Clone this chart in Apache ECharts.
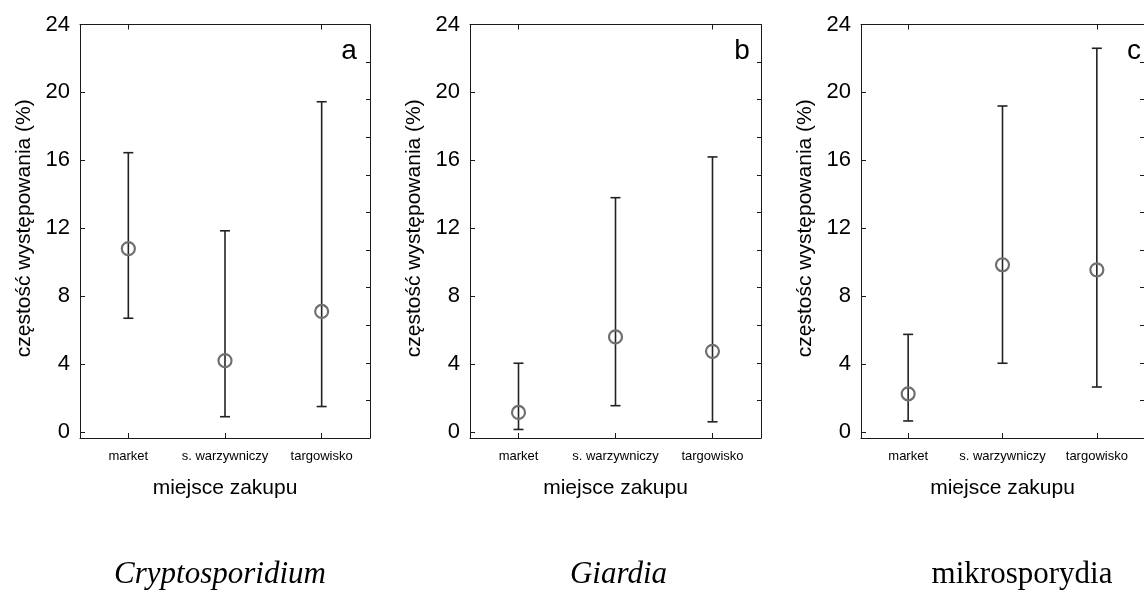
<!DOCTYPE html>
<html>
<head>
<meta charset="utf-8">
<script src="https://cdn.jsdelivr.net/npm/echarts@6/dist/echarts.min.js"></script>
<style>
  html, body { margin: 0; padding: 0; background: #fff; }
  #chart { width: 1144px; height: 594px; }
</style>
</head>
<body>
<div id="chart"></div>
<script>
// dane
const categories = ['market', 's. warzywniczy', 'targowisko'];
const yMax = 24, yStep = 4;

const cryptoMean = [10.8, 4.2, 7.1];
const cryptoLow = [6.7, 0.9, 1.5];
const cryptoHigh = [16.45, 11.85, 19.45];

const giardiaMean = [1.15, 5.6, 4.75];
const giardiaLow = [0.15, 1.55, 0.6];
const giardiaHigh = [4.05, 13.8, 16.2];

const mikroMean = [2.25, 9.85, 9.55];
const mikroLow = [0.65, 4.05, 2.65];
const mikroHigh = [5.75, 19.2, 22.6];

const panels = [
  { letter: 'a', yName: 'częstość występowania (%)', title: 'Cryptosporidium', italic: true,
    mean: cryptoMean, low: cryptoLow, high: cryptoHigh, left: 80, width: 290, letterDx: -21, titleDx: -5 },
  { letter: 'b', yName: 'częstość występowania (%)', title: 'Giardia', italic: true,
    mean: giardiaMean, low: giardiaLow, high: giardiaHigh, left: 470, width: 291, letterDx: -19, titleDx: 3 },
  { letter: 'c', yName: 'częstośc występowania (%)', title: 'mikrosporydia', italic: false,
    mean: mikroMean, low: mikroLow, high: mikroHigh, left: 861, width: 290, letterDx: -17, titleDx: 16 }
];

const TOP = 24.5, HEIGHT = 413.5;   // ramka
const DATA_H = 407.5;               // od 0 do 24
const lineCol = '#1a1a1a';

let grid = [], xAxis = [], yAxis = [], series = [], graphic = [];

panels.forEach((p, i) => {
  const gFrame = grid.length;
  grid.push({ left: p.left, top: TOP, width: p.width, height: HEIGHT });
  const gData = grid.length;
  grid.push({ left: p.left, top: TOP, width: p.width, height: DATA_H });

  // dolna oś kategorii (ramka)
  xAxis.push({
    type: 'category', gridIndex: gFrame, data: categories, position: 'bottom',
    name: 'miejsce zakupu', nameLocation: 'middle', nameGap: 40,
    nameTextStyle: { fontSize: 21, color: '#000', fontFamily: 'Liberation Sans' },
    axisLine: { show: true, onZero: false, lineStyle: { color: lineCol, width: 1 } },
    axisTick: { show: true, inside: true, length: 5, alignWithLabel: true, lineStyle: { color: lineCol } },
    axisLabel: { margin: 12, fontSize: 13, color: '#000', fontFamily: 'Liberation Sans', interval: 0 },
    splitLine: { show: false }
  });
  // górna ramka
  xAxis.push({
    type: 'category', gridIndex: gFrame, data: categories, position: 'top',
    axisLine: { show: true, onZero: false, lineStyle: { color: lineCol, width: 1 } },
    axisTick: { show: true, inside: true, length: 5, alignWithLabel: true, lineStyle: { color: lineCol } },
    axisLabel: { show: false },
    splitLine: { show: false }
  });
  // oś x danych (ukryta)
  const xData = xAxis.length;
  xAxis.push({ type: 'category', gridIndex: gData, data: categories, show: false });

  // lewa linia ramki
  yAxis.push({
    type: 'value', gridIndex: gFrame, min: 0, max: 1, position: 'left',
    axisLine: { show: true, onZero: false, lineStyle: { color: lineCol, width: 1 } },
    axisTick: { show: false }, axisLabel: { show: false }, splitLine: { show: false }
  });
  // prawa ramka z drobnymi kreskami
  yAxis.push({
    type: 'value', gridIndex: gFrame, min: 0, max: 11, interval: 1, position: 'right',
    axisLine: { show: true, onZero: false, lineStyle: { color: lineCol, width: 1 } },
    axisTick: { show: true, inside: true, length: 4, lineStyle: { color: lineCol } },
    axisLabel: { show: false },
    splitLine: { show: false }
  });
  // lewa oś wartości
  const yData = yAxis.length;
  yAxis.push({
    type: 'value', gridIndex: gData, min: 0, max: yMax, interval: yStep, position: 'left',
    name: p.yName, nameLocation: 'middle', nameGap: 45,
    nameTextStyle: { fontSize: 21, color: '#000', fontFamily: 'Liberation Sans' },
    axisLine: { show: true, onZero: false, lineStyle: { color: lineCol, width: 1 } },
    axisTick: { show: true, inside: true, length: 5, lineStyle: { color: lineCol } },
    axisLabel: { margin: 10, fontSize: 22, color: '#000', fontFamily: 'Liberation Sans' },
    splitLine: { show: false }
  });

  const errData = categories.map((c, k) => [k, p.low[k], p.high[k]]);
  series.push({
    type: 'custom', xAxisIndex: xData, yAxisIndex: yData, data: errData, z: 2,
    renderItem: function (params, api) {
      const x = api.value(0);
      const lo = api.coord([x, api.value(1)]);
      const hi = api.coord([x, api.value(2)]);
      const hw = 5;
      const style = { stroke: '#222', lineWidth: 1.6 };
      return {
        type: 'group',
        children: [
          { type: 'line', shape: { x1: lo[0], y1: lo[1], x2: hi[0], y2: hi[1] }, style: style },
          { type: 'line', shape: { x1: lo[0] - hw, y1: lo[1], x2: lo[0] + hw, y2: lo[1] }, style: style },
          { type: 'line', shape: { x1: hi[0] - hw, y1: hi[1], x2: hi[0] + hw, y2: hi[1] }, style: style }
        ]
      };
    }
  });
  series.push({
    type: 'scatter', xAxisIndex: xData, yAxisIndex: yData, z: 3,
    data: p.mean.map((v, k) => [k, v]),
    symbol: 'circle', symbolSize: 13,
    itemStyle: { color: 'rgba(0,0,0,0)', borderColor: '#707070', borderWidth: 2.2, opacity: 1 }
  });

  graphic.push({
    type: 'text', x: p.left + p.width + p.letterDx, y: 51,
    style: { text: p.letter, fontSize: 28, fill: '#000', fontFamily: 'Liberation Sans',
      align: 'center', verticalAlign: 'middle' }
  });
  graphic.push({
    type: 'text', x: p.left + p.width / 2 + p.titleDx, y: 575,
    style: {
      text: p.title, fontSize: 31, fill: '#000', fontFamily: 'Liberation Serif',
      fontStyle: p.italic ? 'italic' : 'normal', align: 'center', verticalAlign: 'middle'
    }
  });
});

const chart = echarts.init(document.getElementById('chart'));
chart.setOption({
  backgroundColor: '#fff',
  animation: false,
  grid: grid,
  xAxis: xAxis,
  yAxis: yAxis,
  series: series,
  graphic: graphic
});
</script>
</body>
</html>
